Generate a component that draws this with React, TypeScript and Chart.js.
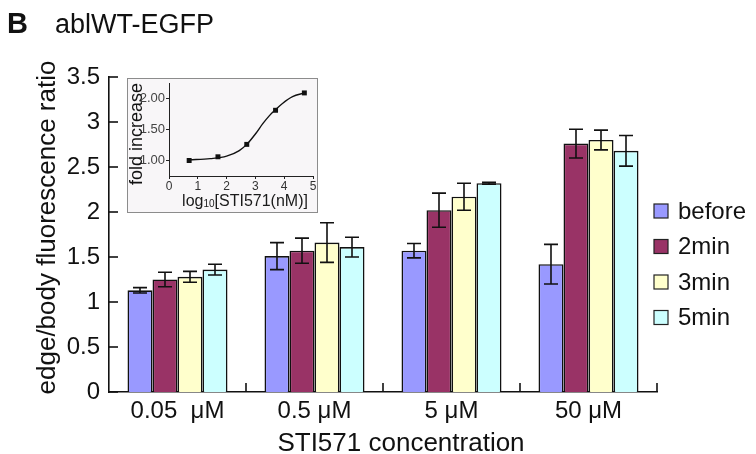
import React, { useEffect, useRef } from 'react';
import { Chart, registerables } from 'chart.js';

Chart.register(...registerables);

// ---------- Main chart data ----------
const categories = ['0.05  μM', '0.5 μM', '5 μM', '50 μM'];
const seriesNames = ['before', '2min', '3min', '5min'];
const seriesColors = ['#9999ff', '#993366', '#ffffcc', '#ccffff'];
const beforeValues = [1.13, 1.51, 1.57, 1.42];
const min2Values = [1.25, 1.57, 2.02, 2.76];
const min3Values = [1.28, 1.66, 2.17, 2.8];
const min5Values = [1.36, 1.61, 2.32, 2.68];
const beforeErrors = [0.03, 0.15, 0.08, 0.22];
const min2Errors = [0.08, 0.14, 0.19, 0.16];
const min3Errors = [0.06, 0.22, 0.15, 0.11];
const min5Errors = [0.06, 0.11, 0.01, 0.17];
const yMin = 0;
const yMax = 3.5;
const yStep = 0.5;

const panelLetter = 'B';
const chartTitle = 'ablWT-EGFP';
const yTitle = 'edge/body fluorescence ratio';
const xTitle = 'STI571 concentration';

// ---------- Inset data ----------
const insetPointX = [0.7, 1.7, 2.7, 3.7, 4.7];
const insetPointY = [1.0, 1.06, 1.26, 1.81, 2.09];
const insetCurveX = [0.7, 1.43, 2.0, 2.44, 2.7, 3.02, 3.25, 3.48, 3.7, 3.94, 4.29, 4.7];
const insetCurveY = [1.01, 1.03, 1.07, 1.16, 1.26, 1.44, 1.59, 1.72, 1.82, 1.92, 2.03, 2.09];
const insetYTicks = [1.0, 1.5, 2.0];
const insetXMin = 0;
const insetXMax = 5;
const insetYMin = 0.75;
const insetYMax = 2.25;
const insetYTitle = 'fold increase';
const insetXTitleParts = ['log', '10', '[STI571(nM)]'];

const FONT = "'Liberation Sans', Arial, Helvetica, sans-serif";

const allValues = [beforeValues, min2Values, min3Values, min5Values];
const allErrors = [beforeErrors, min2Errors, min3Errors, min5Errors];

const mainDecor = {
  id: 'mainDecor',
  afterDatasetsDraw(chart: any) {
    const ctx = chart.ctx;
    const ys = chart.scales.y;
    ctx.save();
    ctx.strokeStyle = '#111';
    ctx.lineWidth = 1.6;
    allErrors.forEach((errs, di) => {
      const meta = chart.getDatasetMeta(di);
      meta.data.forEach((el: any, i: number) => {
        const v = allValues[di][i];
        const e = errs[i];
        const x = el.x;
        const y1 = ys.getPixelForValue(v + e);
        const y2 = ys.getPixelForValue(v - e);
        ctx.beginPath();
        ctx.moveTo(x, y1);
        ctx.lineTo(x, y2);
        ctx.moveTo(x - 7, y1);
        ctx.lineTo(x + 7, y1);
        ctx.moveTo(x - 7, y2);
        ctx.lineTo(x + 7, y2);
        ctx.stroke();
      });
    });
    ctx.restore();
  },
  afterDraw(chart: any) {
    const { ctx, chartArea } = chart;
    const xs = chart.scales.x;
    const ys = chart.scales.y;
    ctx.save();
    // inward tick marks
    ctx.strokeStyle = '#111';
    ctx.lineWidth = 1.6;
    ys.ticks.forEach((t: any) => {
      const py = ys.getPixelForValue(t.value);
      ctx.beginPath();
      ctx.moveTo(chartArea.left, py);
      ctx.lineTo(chartArea.left + 9, py);
      ctx.stroke();
    });
    const half = (xs.getPixelForValue(1) - xs.getPixelForValue(0)) / 2;
    for (let i = 0; i < categories.length; i++) {
      const px = xs.getPixelForValue(i) + half;
      ctx.beginPath();
      ctx.moveTo(px, chartArea.bottom);
      ctx.lineTo(px, chartArea.bottom - 9);
      ctx.stroke();
    }
    // titles
    ctx.fillStyle = '#111';
    ctx.textBaseline = 'alphabetic';
    ctx.textAlign = 'left';
    ctx.font = `bold 29px ${FONT}`;
    ctx.fillText(panelLetter, 7, 33);
    ctx.font = `27px ${FONT}`;
    ctx.fillText(chartTitle, 55, 33);

    ctx.font = `26px ${FONT}`;
    ctx.textAlign = 'center';
    ctx.fillText(xTitle, (chartArea.left + chartArea.right) / 2 + 18, 451);

    ctx.save();
    ctx.translate(55, (chartArea.top + chartArea.bottom) / 2 - 7);
    ctx.rotate(-Math.PI / 2);
    ctx.fillText(yTitle, 0, 0);
    ctx.restore();

    // legend
    ctx.font = `24px ${FONT}`;
    ctx.textAlign = 'left';
    ctx.textBaseline = 'middle';
    seriesNames.forEach((name, i) => {
      const cy = 211 + i * 35.5;
      ctx.fillStyle = seriesColors[i];
      ctx.fillRect(654, cy - 7, 14, 14);
      ctx.strokeStyle = '#222';
      ctx.lineWidth = 1.2;
      ctx.strokeRect(654, cy - 7, 14, 14);
      ctx.fillStyle = '#111';
      ctx.fillText(name, 678, cy + 1);
    });
    ctx.restore();
  },
};

const insetDecor = {
  id: 'insetDecor',
  afterDraw(chart: any) {
    const { ctx, chartArea } = chart;
    ctx.save();
    ctx.fillStyle = '#1a1a1a';
    // x title with subscript
    const big = `16px ${FONT}`;
    const small = `10px ${FONT}`;
    ctx.font = big;
    const w0 = ctx.measureText(insetXTitleParts[0]).width;
    const w2 = ctx.measureText(insetXTitleParts[2]).width;
    ctx.font = small;
    const w1 = ctx.measureText(insetXTitleParts[1]).width;
    const total = w0 + w1 + w2;
    let x = (chartArea.left + chartArea.right) / 2 - total / 2 + 4;
    const base = 126.5;
    ctx.textAlign = 'left';
    ctx.textBaseline = 'alphabetic';
    ctx.font = big;
    ctx.fillText(insetXTitleParts[0], x, base);
    x += w0;
    ctx.font = small;
    ctx.fillText(insetXTitleParts[1], x, base + 1);
    x += w1;
    ctx.font = big;
    ctx.fillText(insetXTitleParts[2], x, base);
    // y title
    ctx.save();
    ctx.translate(13.5, 55);
    ctx.rotate(-Math.PI / 2);
    ctx.textAlign = 'center';
    ctx.font = `18px ${FONT}`;
    ctx.fillStyle = '#111';
    ctx.fillText(insetYTitle, 0, 0);
    ctx.restore();
    ctx.restore();
  },
};

export default function App() {
  const mainRef = useRef<HTMLCanvasElement>(null);
  const insetRef = useRef<HTMLCanvasElement>(null);

  useEffect(() => {
    const main = new Chart(mainRef.current as HTMLCanvasElement, {
      type: 'bar',
      data: {
        labels: categories,
        datasets: seriesNames.map((name, i) => ({
          label: name,
          data: allValues[i],
          backgroundColor: seriesColors[i],
          borderColor: '#111',
          borderWidth: 1.6,
          categoryPercentage: 0.73,
          barPercentage: 1.0,
          inflateAmount: 0,
        })),
      },
      options: {
        responsive: false,
        animation: false,
        devicePixelRatio: 1,
        datasets: { bar: { categoryPercentage: 0.73, barPercentage: 1.0 } },
        layout: { padding: { top: 77, right: 99, left: 0, bottom: 0 } },
        plugins: { legend: { display: false }, tooltip: { enabled: false }, title: { display: false } },
        scales: {
          x: {
            grid: { display: false, drawTicks: false },
            border: { display: true, color: '#111', width: 1.6 },
            ticks: { color: '#111', font: { family: FONT, size: 24 }, padding: 5, maxRotation: 0, autoSkip: false },
            afterFit: (s: any) => {
              s.height = 62;
              s.paddingLeft = 0;
              s.paddingRight = 0;
            },
          },
          y: {
            min: yMin,
            max: yMax,
            grid: { display: false, drawTicks: false },
            border: { display: true, color: '#111', width: 1.6 },
            ticks: {
              stepSize: yStep,
              color: '#111',
              font: { family: FONT, size: 24 },
              padding: 9,
              callback: (v: any) => String(Number(v)),
            },
            afterFit: (s: any) => {
              s.width = 109;
              s.paddingTop = 0;
              s.paddingBottom = 0;
            },
          },
        },
      } as any,
      plugins: [mainDecor],
    });

    const inset = new Chart(insetRef.current as HTMLCanvasElement, {
      type: 'scatter',
      data: {
        datasets: [
          {
            label: 'fit',
            data: insetCurveX.map((x, i) => ({ x, y: insetCurveY[i] })),
            showLine: true,
            borderColor: '#111',
            borderWidth: 1.4,
            pointRadius: 0,
            cubicInterpolationMode: 'monotone',
          },
          {
            label: 'points',
            data: insetPointX.map((x, i) => ({ x, y: insetPointY[i] })),
            showLine: false,
            pointStyle: 'rect',
            pointRadius: 3.5,
            backgroundColor: '#111',
            borderColor: '#111',
            borderWidth: 0,
          },
        ],
      },
      options: {
        responsive: false,
        animation: false,
        devicePixelRatio: 1,
        layout: { padding: { top: 1.5, right: 3, left: 0, bottom: 0 } },
        plugins: { legend: { display: false }, tooltip: { enabled: false } },
        scales: {
          x: {
            type: 'linear',
            min: insetXMin,
            max: insetXMax,
            grid: { display: true, drawOnChartArea: false, tickLength: 3, color: '#222' },
            border: { display: true, color: '#222', width: 1 },
            ticks: { stepSize: 1, color: '#333', font: { family: FONT, size: 12 }, padding: 0 },
            afterFit: (s: any) => {
              s.height = 36;
              s.paddingLeft = 0;
              s.paddingRight = 0;
            },
          },
          y: {
            type: 'linear',
            min: insetYMin,
            max: insetYMax,
            grid: { display: true, drawOnChartArea: false, tickLength: 3, color: '#222' },
            border: { display: true, color: '#222', width: 1 },
            ticks: {
              color: '#444',
              font: { family: FONT, size: 13 },
              padding: 1,
              callback: (v: any) => Number(v).toFixed(2),
            },
            afterBuildTicks: (s: any) => {
              s.ticks = insetYTicks.map((v) => ({ value: v }));
            },
            afterFit: (s: any) => {
              s.width = 41;
              s.paddingTop = 0;
              s.paddingBottom = 0;
            },
          },
        },
      } as any,
      plugins: [insetDecor],
    });

    return () => {
      main.destroy();
      inset.destroy();
    };
  }, []);

  return (
    <div style={{ position: 'absolute', left: 0, top: 0, width: 756, height: 454, background: '#fff', overflow: 'hidden' }}>
      <canvas
        ref={mainRef}
        width={756}
        height={454}
        style={{ position: 'absolute', left: 0, top: 0, width: 756, height: 454 }}
      />
      <div
        style={{
          position: 'absolute',
          left: 127,
          top: 78,
          width: 191,
          height: 135,
          boxSizing: 'border-box',
          border: '1px solid #8c8c8c',
          background: '#f8f6f8',
        }}
      >
        <canvas ref={insetRef} width={189} height={133} style={{ display: 'block', width: 189, height: 133 }} />
      </div>
    </div>
  );
}
